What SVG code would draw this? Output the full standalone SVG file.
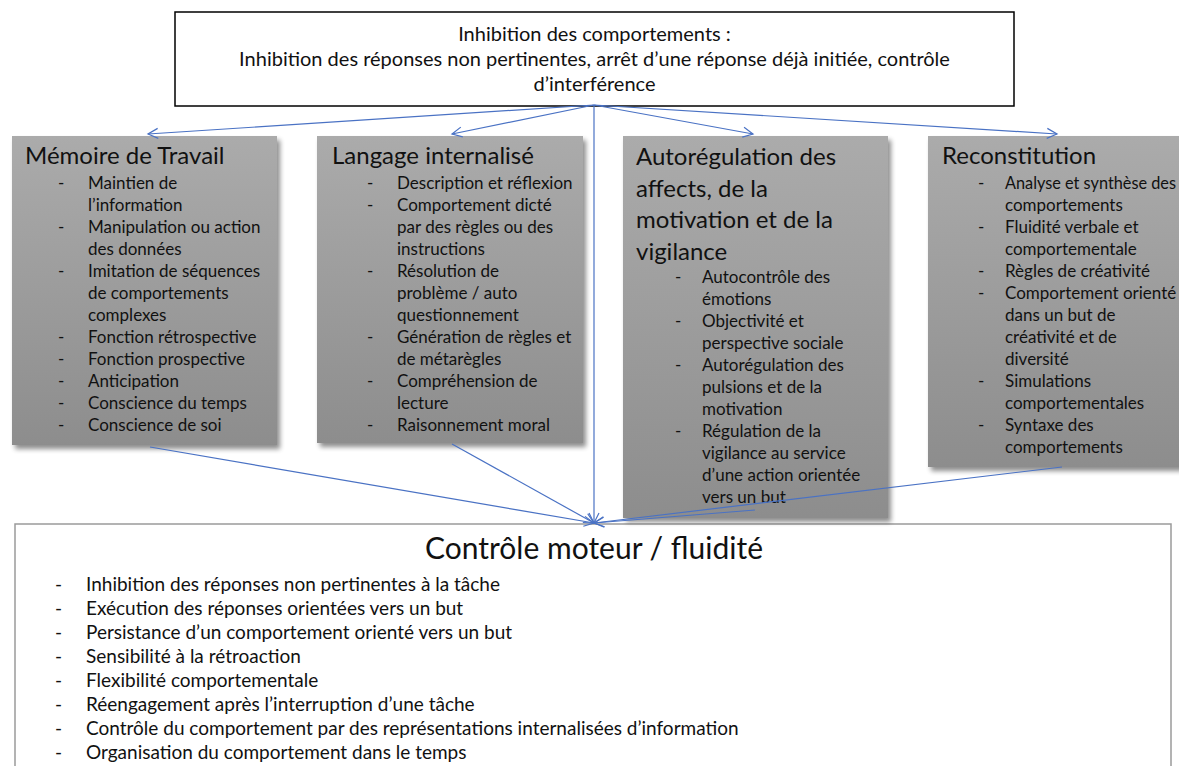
<svg xmlns="http://www.w3.org/2000/svg" width="1179" height="766" viewBox="0 0 1179 766">
<defs>
<linearGradient id="gbox" x1="0" y1="0" x2="0" y2="1">
<stop offset="0" stop-color="#ababab"/>
<stop offset="1" stop-color="#8d8d8d"/>
</linearGradient>
<filter id="shadow" x="-10%" y="-10%" width="130%" height="130%">
<feGaussianBlur in="SourceAlpha" stdDeviation="2.5"/>
<feOffset dx="3" dy="4" result="b"/>
<feComponentTransfer><feFuncA type="linear" slope="0.45"/></feComponentTransfer>
<feMerge><feMergeNode/><feMergeNode in="SourceGraphic"/></feMerge>
</filter>
<marker id="arr" markerUnits="userSpaceOnUse" markerWidth="16" markerHeight="16" refX="11" refY="6" orient="auto">
<path d="M1,1 L11,6 L1,11" fill="none" stroke="#4a72c4" stroke-width="1.2"/>
</marker>
</defs>
<style>
text { font-family: Lato, "Liberation Sans", sans-serif; fill: #111; }
.top { font-size: 20px; text-anchor: middle; }
.ttl { font-size: 24px; }
.li { font-size: 17px; }
.big { font-size: 30px; text-anchor: middle; }
.bl { font-size: 19px; }
.box { fill: url(#gbox); filter: url(#shadow); }
.conn { stroke: #4a72c4; stroke-width: 1.2; fill: none; }
</style>
<rect width="1179" height="766" fill="#fff"/>

<g id="node-bottom">
<rect x="15" y="524" width="1156" height="260" fill="#fff" stroke="#9a9a9a" stroke-width="1.5"/>
<text class="big" x="594" y="559">Contrôle moteur / fluidité</text>
<g class="bl">
<text x="55" y="591">-</text><text x="86" y="591">Inhibition des réponses non pertinentes à la tâche</text>
<text x="55" y="615">-</text><text x="86" y="615">Exécution des réponses orientées vers un but</text>
<text x="55" y="639">-</text><text x="86" y="639">Persistance d’un comportement orienté vers un but</text>
<text x="55" y="663">-</text><text x="86" y="663">Sensibilité à la rétroaction</text>
<text x="55" y="687">-</text><text x="86" y="687">Flexibilité comportementale</text>
<text x="55" y="711">-</text><text x="86" y="711">Réengagement après l’interruption d’une tâche</text>
<text x="55" y="735">-</text><text x="86" y="735">Contrôle du comportement par des représentations internalisées d’information</text>
<text x="55" y="759">-</text><text x="86" y="759">Organisation du comportement dans le temps</text>
</g>
</g>

<g id="node-top">
<rect x="175" y="12" width="839" height="94" fill="#fff" stroke="#000" stroke-width="1.5"/>
<text class="top" x="594.5" y="41">Inhibition des comportements :</text>
<text class="top" x="594.5" y="66">Inhibition des réponses non pertinentes, arrêt d’une réponse déjà initiée, contrôle</text>
<text class="top" x="594.5" y="91">d’interférence</text>
</g>

<g id="node-memoire">
<rect class="box" x="12" y="136" width="265" height="309"/>
<text class="ttl" x="25" y="164">Mémoire de Travail</text>
<g class="li">
<text x="58" y="189">-</text><text x="88" y="189">Maintien de</text>
<text x="88" y="211">l’information</text>
<text x="58" y="233">-</text><text x="88" y="233">Manipulation ou action</text>
<text x="88" y="255">des données</text>
<text x="58" y="277">-</text><text x="88" y="277">Imitation de séquences</text>
<text x="88" y="299">de comportements</text>
<text x="88" y="321">complexes</text>
<text x="58" y="343">-</text><text x="88" y="343">Fonction rétrospective</text>
<text x="58" y="365">-</text><text x="88" y="365">Fonction prospective</text>
<text x="58" y="387">-</text><text x="88" y="387">Anticipation</text>
<text x="58" y="409">-</text><text x="88" y="409">Conscience du temps</text>
<text x="58" y="431">-</text><text x="88" y="431">Conscience de soi</text>
</g>
</g>

<g id="node-langage">
<rect class="box" x="317" y="136" width="266" height="307"/>
<text class="ttl" x="332" y="164">Langage internalisé</text>
<g class="li">
<text x="367" y="189">-</text><text x="397" y="189">Description et réflexion</text>
<text x="367" y="211">-</text><text x="397" y="211">Comportement dicté</text>
<text x="397" y="233">par des règles ou des</text>
<text x="397" y="255">instructions</text>
<text x="367" y="277">-</text><text x="397" y="277">Résolution de</text>
<text x="397" y="299">problème / auto</text>
<text x="397" y="321">questionnement</text>
<text x="367" y="343">-</text><text x="397" y="343">Génération de règles et</text>
<text x="397" y="365">de métarègles</text>
<text x="367" y="387">-</text><text x="397" y="387">Compréhension de</text>
<text x="397" y="409">lecture</text>
<text x="367" y="431">-</text><text x="397" y="431">Raisonnement moral</text>
</g>
</g>

<g id="node-autoregulation">
<rect class="box" x="623" y="136" width="265" height="382"/>
<text class="ttl" x="636" y="165">Autorégulation des</text>
<text class="ttl" x="636" y="196.5">affects, de la</text>
<text class="ttl" x="636" y="228">motivation et de la</text>
<text class="ttl" x="636" y="259.5">vigilance</text>
<g class="li">
<text x="675" y="283">-</text><text x="702" y="283">Autocontrôle des</text>
<text x="702" y="305">émotions</text>
<text x="675" y="327">-</text><text x="702" y="327">Objectivité et</text>
<text x="702" y="349">perspective sociale</text>
<text x="675" y="371">-</text><text x="702" y="371">Autorégulation des</text>
<text x="702" y="393">pulsions et de la</text>
<text x="702" y="415">motivation</text>
<text x="675" y="437">-</text><text x="702" y="437">Régulation de la</text>
<text x="702" y="459">vigilance au service</text>
<text x="702" y="481">d’une action orientée</text>
<text x="702" y="503">vers un but</text>
</g>
</g>

<g id="node-reconstitution">
<rect class="box" x="928" y="136" width="262" height="331"/>
<text class="ttl" x="942" y="164">Reconstitution</text>
<g class="li">
<text x="978" y="189">-</text><text x="1005" y="189" textLength="171" lengthAdjust="spacingAndGlyphs">Analyse et synthèse des</text>
<text x="1005" y="211">comportements</text>
<text x="978" y="233">-</text><text x="1005" y="233">Fluidité verbale et</text>
<text x="1005" y="255">comportementale</text>
<text x="978" y="277">-</text><text x="1005" y="277">Règles de créativité</text>
<text x="978" y="299">-</text><text x="1005" y="299">Comportement orienté</text>
<text x="1005" y="321">dans un but de</text>
<text x="1005" y="343">créativité et de</text>
<text x="1005" y="365">diversité</text>
<text x="978" y="387">-</text><text x="1005" y="387">Simulations</text>
<text x="1005" y="409">comportementales</text>
<text x="978" y="431">-</text><text x="1005" y="431">Syntaxe des</text>
<text x="1005" y="453">comportements</text>
</g>
</g>

<g id="connectors" class="conn">
<line x1="594" y1="105" x2="148" y2="134" marker-end="url(#arr)"/>
<line x1="594" y1="105" x2="452" y2="134" marker-end="url(#arr)"/>
<line x1="594" y1="105" x2="753" y2="134" marker-end="url(#arr)"/>
<line x1="594" y1="105" x2="1057" y2="134" marker-end="url(#arr)"/>
<line x1="594" y1="105" x2="594" y2="523" marker-end="url(#arr)"/>
<line x1="150" y1="447" x2="594" y2="523" marker-end="url(#arr)"/>
<line x1="452" y1="444" x2="594" y2="523" marker-end="url(#arr)"/>
<line x1="755" y1="510" x2="594" y2="523" marker-end="url(#arr)"/>
<line x1="1062" y1="467" x2="594" y2="523" marker-end="url(#arr)"/>
</g>
</svg>
